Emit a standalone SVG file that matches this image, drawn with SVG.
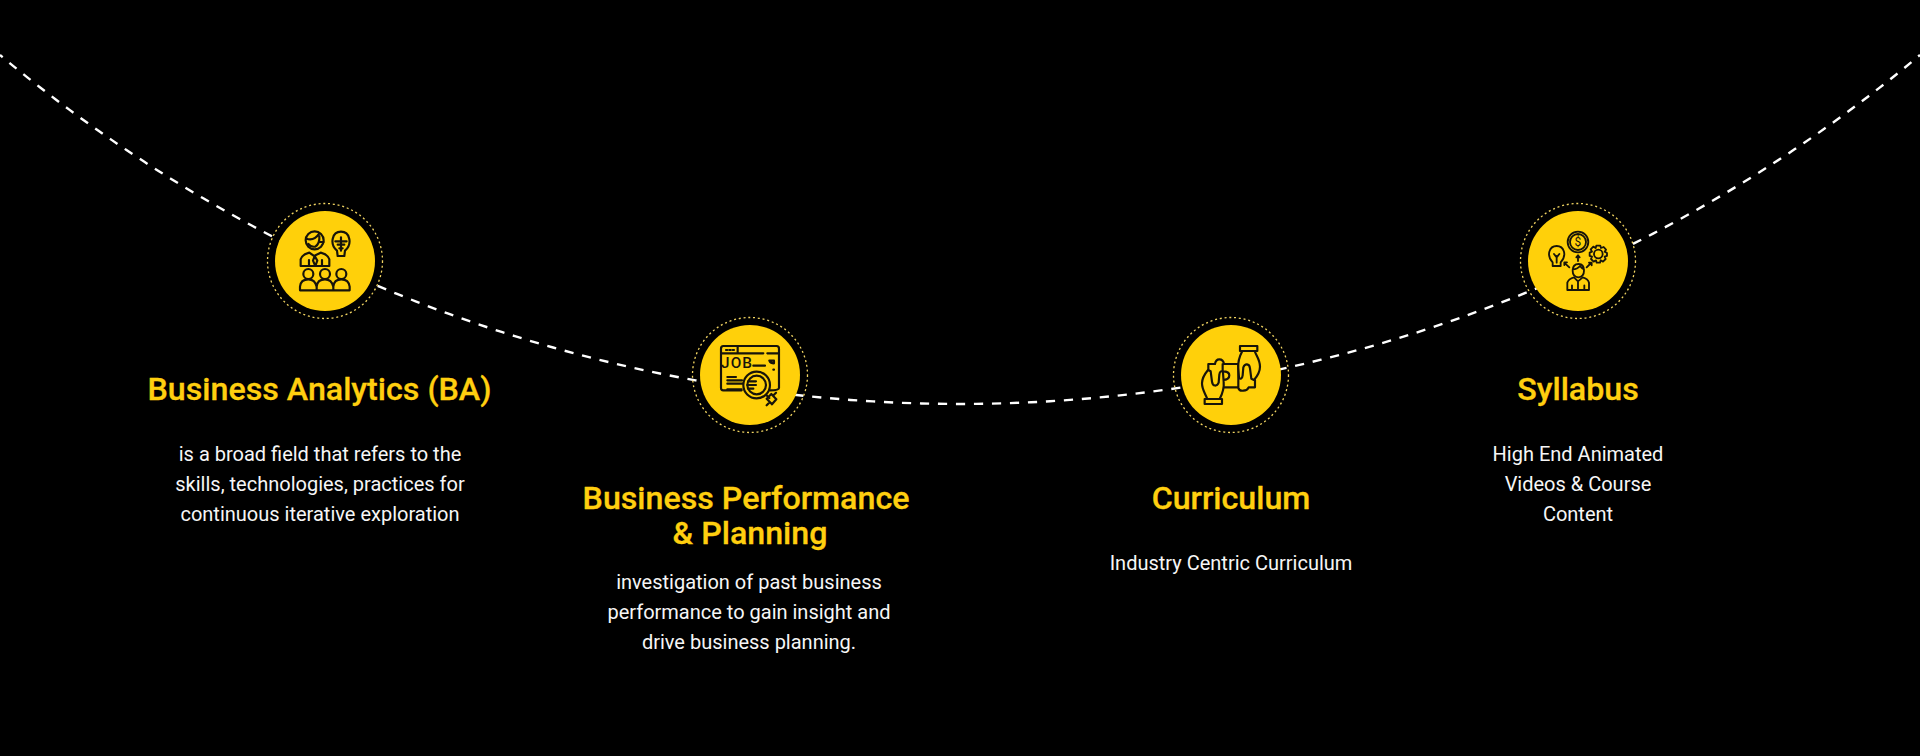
<svg xmlns="http://www.w3.org/2000/svg" width="1920" height="756" viewBox="0 0 1920 756">
<style>
.t{font-family:Roboto,"Liberation Sans",sans-serif;font-size:32.2px;font-weight:500;fill:#ffcf0f;text-anchor:middle;stroke:#ffcf0f;stroke-width:.3}
.b{font-family:Roboto,"Liberation Sans",sans-serif;font-size:20px;font-weight:400;fill:#f6f6f6;text-anchor:middle}
.disc{fill:#ffd00a}
.ring{fill:none;stroke:#f2d562;stroke-width:1.3;stroke-dasharray:2 2.8}
.i{fill:none;stroke:#17140a;stroke-width:6.5;stroke-linecap:round;stroke-linejoin:round}
.f{fill:#ffd00a}
</style>
<rect width="1920" height="756" fill="#000"/>
<g id="connectors"><path d="M0 55A1495 1495 0 0 0 1920 55" fill="none" stroke="#fff" stroke-width="2.4" stroke-dasharray="9.2 8.8" stroke-dashoffset="5.7"/></g>
<g id="node1">
<circle class="disc" cx="325" cy="261" r="50"/><circle class="ring" cx="325" cy="261" r="57.5"/>
<g transform="translate(240 180) scale(.3333)" class="i">
<circle cx="224" cy="181" r="27"/><path d="M199 176Q222 184 238 160M238 168Q240 190 226 200Q212 202 205 192M251 186H240"/>
<path d="M182 258V238Q186 224 208 218L222 228L242 218Q264 224 268 238V258ZM207 240V258M246 240V258M224 228L219 242L226 258L232 242Z"/>
<path d="M291 212C268 192 276 155 303 155C330 155 338 192 315 212L313 228H293ZM286 184H320M303 172V212M293 194H313M298 205H308"/>
<circle cx="205" cy="282" r="15"/><circle cx="255" cy="282" r="15"/><circle cx="304" cy="282" r="15"/>
<path d="M180 331V320Q182 298 205 298Q225 298 230 320V331ZM230 331V320Q232 298 255 298Q275 298 280 320V331ZM280 331V320Q282 298 304 298Q326 298 329 320V331Z"/>
</g>
</g>
<g id="node2">
<circle class="disc" cx="750" cy="375" r="50"/><circle class="ring" cx="750" cy="375" r="57.5"/>
<g transform="translate(670 300) scale(.3333)" class="i">
<path d="M215 271H160Q153 271 153 264V146Q153 138 160 138H320Q327 138 327 146V264Q327 271 300 271M153 160H280M292 160H327M203 138V160M250 197H285M172 231H198M172 241H216M172 251H228M172 268H215"/>
<path d="M168 150H172M178 150H182M188 150H192M298 182H312V190Q302 190 298 182M310 209H312"/>
<text x="201" y="205" font-family="Roboto,sans-serif" font-size="46" font-weight="500" text-anchor="middle" stroke="none" fill="#17140a" letter-spacing="3">JOB</text>
<circle class="f" cx="260" cy="255" r="40"/><circle cx="260" cy="255" r="28"/>
<path d="M235 244H258M232 255H258M235 266H250M288 284L298 294M290 296L304 282L319 298L306 313ZM312 284L318 278M296 310L290 316"/>
</g>
</g>
<g id="node3">
<circle class="disc" cx="1231" cy="375" r="50"/><circle class="ring" cx="1231" cy="375" r="57.5"/>
<defs>
<g id="hand">
<path class="f" d="M277 153C268 170 263 185 265 205L267 232C270 240 277 236 278 226L280 202C285 190 298 190 300 205L304 236L312 240C322 228 330 215 330 200C330 180 320 170 314 153Z"/>
<path d="M270 138H322V153H270Z"/>
</g>
</defs>
<g transform="translate(1150 300) scale(.3333)" class="i">
<path d="M175 192H195Q197 178 208 178Q220 178 222 192H265V262M175 192V215M218 262H264Q268 274 280 272Q292 272 296 262H315V240M218 262V240Q238 240 238 226Q238 214 218 214V192"/>
<use href="#hand"/>
<use href="#hand" transform="rotate(180 243 225)"/>
</g>
</g>
<g id="node4">
<circle class="disc" cx="1578" cy="261" r="50"/><circle class="ring" cx="1578" cy="261" r="57.5"/>
<g transform="translate(1500 180) scale(.3333)" class="i" style="stroke-width:5.5">
<circle cx="234" cy="186" r="31"/><circle cx="234" cy="186" r="24"/>
<text x="234" y="199" font-family="Roboto,sans-serif" font-size="36" text-anchor="middle" stroke="none" fill="#17140a">$</text>
<path d="M158 247C138 225 148 198 170 198C192 198 202 225 182 247V258H158ZM170 248V228M162 222L170 232L178 222"/>
<path d="M234 243V226M229 232L234 226L239 232M208 262L195 250M193 255V247H201M260 262L273 249M267 248H275V256"/>
<circle cx="295" cy="222" r="13"/>
<path d="M289 197L301 197L303 204L311 201L318 209L314 215L321 219V228L314 230L317 237L309 245L302 241L300 248H290L288 241L281 245L273 237L276 230L269 228V218L276 215L272 208L280 200L287 204Z"/>
<path d="M218 272Q218 252 236 252Q252 252 252 272Q252 290 235 292Q218 290 218 272ZM218 268Q232 268 240 258Q246 266 252 268"/>
<path d="M202 330V308Q206 296 222 292L234 304L248 292Q264 296 267 308V330ZM234 304V330M216 316V330M253 316V330"/>
</g>
</g>
<g id="text1">
<text class="t" x="319.5" y="400">Business Analytics (BA)</text>
<text class="b" x="320" y="461">is a broad field that refers to the</text>
<text class="b" x="320" y="491">skills, technologies, practices for</text>
<text class="b" x="320" y="521">continuous iterative exploration</text>
</g>
<g id="text2">
<text class="t" x="746" y="509">Business Performance</text>
<text class="t" x="750" y="544">&amp; Planning</text>
<text class="b" x="749" y="589">investigation of past business</text>
<text class="b" x="749" y="619">performance to gain insight and</text>
<text class="b" x="749" y="649">drive business planning.</text>
</g>
<g id="text3">
<text class="t" x="1231" y="509">Curriculum</text>
<text class="b" x="1231" y="570">Industry Centric Curriculum</text>
</g>
<g id="text4">
<text class="t" x="1578" y="400">Syllabus</text>
<text class="b" x="1578" y="461">High End Animated</text>
<text class="b" x="1578" y="491">Videos &amp; Course</text>
<text class="b" x="1578" y="521">Content</text>
</g>
</svg>
